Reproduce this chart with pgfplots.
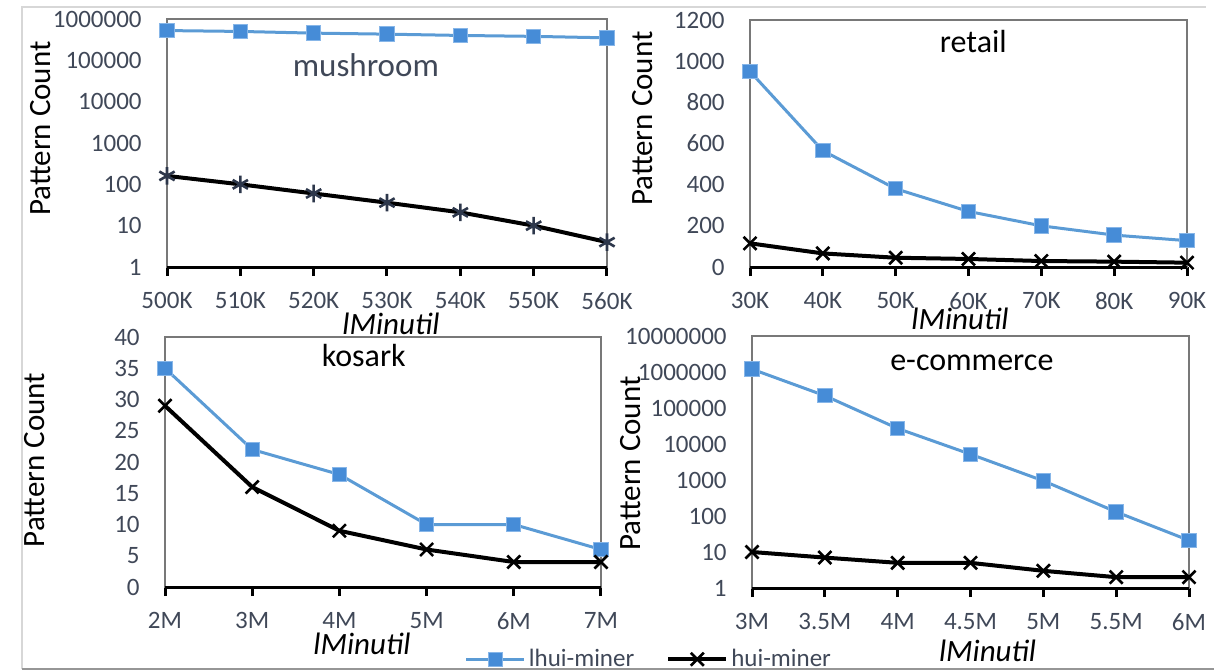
\documentclass[border=0pt]{standalone}
\usepackage{pgfplots}
\pgfplotsset{compat=1.18}
\usepackage{fontspec}
\setmainfont{Carlito}
\definecolor{tickc}{RGB}{64,72,88}
\definecolor{lblue}{RGB}{91,155,213}
\definecolor{sqfill}{RGB}{70,140,215}
\definecolor{sqdraw}{RGB}{135,182,232}
\definecolor{framec}{RGB}{120,120,120}
\definecolor{astc}{RGB}{45,55,75}
\tikzset{ttl/.style={anchor=base, font=\fontsize{16}{19}\selectfont}}
\pgfplotsset{
  common/.style={
    scale only axis, clip=false,
    axis line style={framec, line width=0.7pt},
    xtick pos=left, xtick align=outside,
    xtick style={black, line width=1.5pt}, major tick length=4.5pt,
    ytick style={draw=none},
    xtick={0,...,6},
    /pgf/number format/assume math mode=true,
    tick label style={font=\fontsize{12.5}{15}\selectfont, text=tickc},
    yticklabel style={anchor=east, inner sep=0pt, xshift=-12.5pt},
    xticklabel style={anchor=north, inner sep=0pt, yshift=-8pt},
    xlabel={\itshape lMinutil}, ylabel={Pattern Count},
    label style={font=\fontsize{15.5}{18}\selectfont, inner sep=0pt},
    xlabel style={anchor=north},
    ylabel style={anchor=south},
    legend image code/.code={\draw[mark repeat=2,mark phase=2] plot coordinates {(0pt,0pt) (14.5pt,0pt) (29pt,0pt)};},
  },
  bl/.style={color=lblue, line width=1.5pt, mark=square*, mark size=3.6pt,
    mark options={fill=sqfill, draw=sqdraw, line width=0.5pt, solid}},
  bk/.style={color=black, line width=2pt, mark=x, mark size=4.6pt,
    mark options={line width=1.3pt, solid}},
}
\begin{document}
\begin{tikzpicture}
% screenshot border
\draw[color={rgb,255:red,215;green,215;blue,215}, line width=0.6pt] (11pt,0.5pt) -- (11pt,331.5pt) -- (603pt,331.5pt);
\draw[color={rgb,255:red,150;green,150;blue,150}, line width=1pt] (11pt,0.5pt) -- (607pt,0.5pt);

% mushroom
\begin{axis}[common, at={(83.5pt,201.5pt)}, anchor=south west, width=220pt, height=124pt,
  ymode=log, ymin=1, ymax=1000000, xmin=0, xmax=6,
  ytick={1,10,100,1000,10000,100000,1000000},
  yticklabels={1,10,100,1000,10000,100000,1000000},
  xticklabels={500K,510K,520K,530K,540K,550K,560K},
  xlabel style={at={(axis description cs:0.509,-0.183)}},
  ylabel style={at={(axis description cs:-0.2636,0.5585)}}]
\addplot[bl] coordinates {(0,525000) (1,500000) (2,455000) (3,430000) (4,400000) (5,380000) (6,350000)};
\addplot[color=black, line width=2pt, mark=asterisk, mark size=4.4pt, mark options={color=astc, line width=1.3pt, solid}]
  coordinates {(0,160) (1,100) (2,60) (3,36) (4,21) (5,10) (6,4)};
\draw[black, line width=1.5pt] (rel axis cs:0,0) -- (rel axis cs:1,0);
\node[ttl, text=tickc, font=\fontsize{16.5}{19}\selectfont] at (axis description cs:0.452,0.770) {mushroom};
\end{axis}

% retail
\begin{axis}[common, at={(375pt,201.5pt)}, anchor=south west, width=218.5pt, height=123.5pt,
  ymin=0, ymax=1200, xmin=0, xmax=6,
  ytick={0,200,400,600,800,1000,1200},
  yticklabels={0,200,400,600,800,1000,1200},
  xticklabels={30K,40K,50K,60K,70K,80K,90K},
  xlabel style={at={(axis description cs:0.4805,-0.165)}},
  ylabel style={at={(axis description cs:-0.222,0.601)}}]
\addplot[bl] coordinates {(0,950) (1,565) (2,380) (3,270) (4,200) (5,155) (6,128)};
\addplot[bk] coordinates {(0,115) (1,66) (2,45) (3,39) (4,29) (5,26) (6,21)};
\draw[black, line width=1.5pt] (rel axis cs:0,0) -- (rel axis cs:1,0);
\node[ttl] at (axis description cs:0.511,0.868) {retail};
\end{axis}

% kosark
\begin{axis}[common, at={(82.5pt,41.5pt)}, anchor=south west, width=218pt, height=125pt,
  ymin=0, ymax=40, xmin=0, xmax=5, xtick={0,...,5},
  ytick={0,5,10,15,20,25,30,35,40},
  yticklabels={0,5,10,15,20,25,30,35,40},
  xticklabels={2M,3M,4M,5M,6M,7M},
  xlabel style={at={(axis description cs:0.4518,-0.184)}},
  ylabel style={at={(axis description cs:-0.2752,0.508)}},
  legend columns=2,
  legend style={at={(axis description cs:0.687,-0.289)}, anchor=west, draw=none, fill=none,
    inner sep=0pt, font=\fontsize{12.5}{14}\selectfont, text=tickc,
    nodes={inner sep=1.5pt},
    /tikz/every even column/.append style={column sep=14.5pt}}]
\addplot[bl] coordinates {(0,35) (1,22) (2,18) (3,10) (4,10) (5,6)};
\addlegendentry{lhui-miner}
\addplot[bk] coordinates {(0,29) (1,16) (2,9) (3,6) (4,4) (5,4)};
\addlegendentry{hui-miner}
\draw[black, line width=1.5pt] (rel axis cs:0,0) -- (rel axis cs:1,0);
\node[ttl] at (axis description cs:0.456,0.881) {kosark};
\end{axis}

% e-commerce
\begin{axis}[common, at={(376pt,41pt)}, anchor=south west, width=218.5pt, height=126pt,
  ymode=log, ymin=1, ymax=10000000, xmin=0, xmax=6,
  ytick={1,10,100,1000,10000,100000,1000000,10000000},
  yticklabels={1,10,100,1000,10000,100000,1000000,10000000},
  xticklabels={3M,3.5M,4M,4.5M,5M,5.5M,6M},
  xlabel style={at={(axis description cs:0.539,-0.206)}},
  ylabel style={at={(axis description cs:-0.254,0.494)}}]
\addplot[bl] coordinates {(0,1200000) (1,220000) (2,27000) (3,5200) (4,950) (5,130) (6,21)};
\addplot[bk] coordinates {(0,10) (1,7) (2,5) (3,5) (4,3) (5,2) (6,2)};
\draw[black, line width=1.5pt] (rel axis cs:0,0) -- (rel axis cs:1,0);
\node[ttl] at (axis description cs:0.503,0.865) {e-commerce};
\end{axis}

\pgfresetboundingbox
\path[use as bounding box] (0,0) rectangle (607pt,335pt);
\end{tikzpicture}
\end{document}
